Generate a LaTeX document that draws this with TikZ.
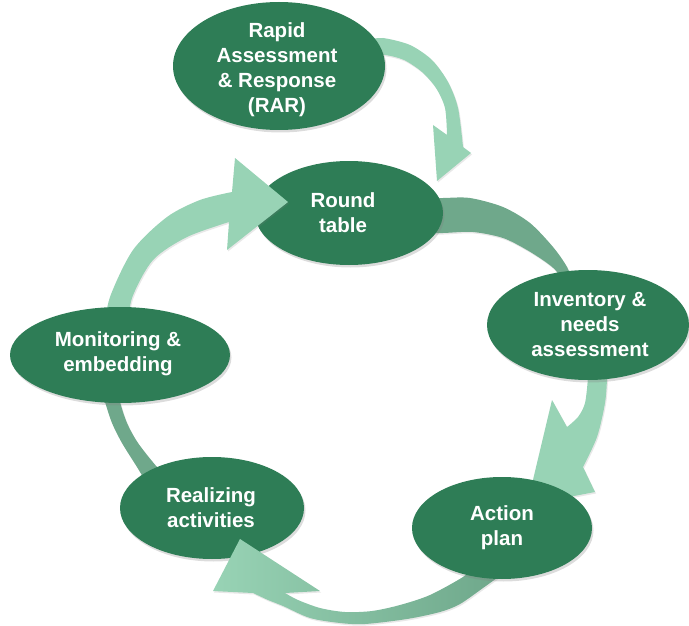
\documentclass[tikz,border=0pt]{standalone}
\usepackage{fontspec}
\setmainfont{Liberation Sans}
\usetikzlibrary{shapes.geometric,shadows}
\definecolor{eg}{RGB}{46,125,86}
\definecolor{lm}{RGB}{152,211,181}
\definecolor{dm}{RGB}{111,168,139}
\tikzset{
  blob/.style={ellipse, fill=eg, draw=none, inner sep=0pt,
    drop shadow={shadow xshift=1.5pt, shadow yshift=-2.5pt, opacity=0.28}},
  txt/.style={text=white, font=\fontsize{20.5}{25}\selectfont\bfseries, align=center, inner sep=0pt},
  mintf/.style={fill=lm, drop shadow={shadow xshift=1pt, shadow yshift=-1.5pt, opacity=0.18}},
  darkf/.style={fill=dm, drop shadow={shadow xshift=1pt, shadow yshift=-1.5pt, opacity=0.18}},
}
\begin{document}
\begin{tikzpicture}[x=1pt,y=-1pt]
\useasboundingbox (0,0) rectangle (689,626);
% Round table -> Inventory (dark back)
\path[darkf] plot[smooth] coordinates {(425,198) (443,198) (470,198) (503,207) (530,223) (553,247) (567,267) (574,285)}
  -- plot[smooth] coordinates {(563,285) (557,272) (547,263) (527,250) (503,238) (473,232) (443,233) (425,233)} -- cycle;
\node[blob, minimum width=188pt, minimum height=104pt] (round) at (349,213) {};
% RAR -> Round table
\path[mintf] plot[smooth] coordinates {(368,40) (383,38) (410,45) (432,60) (448,82) (458,108) (463,147)}
  -- (471,153) -- (437,181) -- (433,125) -- (447,135)
  -- plot[smooth] coordinates {(447,135) (445,108) (436,88) (422,72) (404,60) (385,55) (368,56)} -- cycle;
\node[blob, minimum width=212pt, minimum height=128pt] (rar) at (279,66) {};
% Monitoring -> Round table
\path[mintf] plot[smooth] coordinates {(104,330) (110,297) (133,250) (167,217) (200,200) (232,192)}
  -- (235,158) -- (288,202) -- (227,250) -- (229,222)
  -- plot[smooth] coordinates {(229,222) (187,237) (153,260) (132,298) (128,330)} -- cycle;
% Realizing -> Monitoring (dark back)
\path[darkf] plot[smooth] coordinates {(102,392) (105,402) (112,423) (122,443) (137,467) (146,482)}
  -- plot[smooth] coordinates {(172,482) (157,467) (138,443) (127,423) (120,402) (119,392)} -- cycle;
\node[blob, minimum width=220pt, minimum height=96pt] (mon) at (120,355) {};
\node[blob, minimum width=184pt, minimum height=102pt] (real) at (212,508) {};
% Action -> Realizing
\shade[left color=lm, middle color=lm, right color=dm, drop shadow={shadow xshift=1pt, shadow yshift=-1.5pt, opacity=0.18}]
  plot[smooth] coordinates {(472,568) (463,577) (430,595) (400,605) (372,611) (345,612) (320,608) (298,600) (285,593)}
  -- (320,591) -- (240,539) -- (213,591) -- (253,593)
  -- plot[smooth] coordinates {(253,593) (268,600) (283,606) (310,618) (340,623) (365,624) (407,619) (440,612) (460,604) (483,588) (497,578)} -- cycle;
% Inventory -> Action
\path[mintf] plot[smooth] coordinates {(606,360) (607,377) (605,403) (597,437) (583,467)}
  -- (595,492) -- (527,505) -- (552,400) -- (567,427)
  -- plot[smooth] coordinates {(567,427) (578,417) (585,403) (588,377) (588,360)} -- cycle;
\node[blob, minimum width=180pt, minimum height=102pt] (act) at (502,528) {};
\node[blob, minimum width=202pt, minimum height=110pt] (inv) at (588,325) {};
% texts
\node[txt] (rart) at (277,70) {Rapid\\Assessment\\\& Response\\(RAR)};
\node[txt] (roundt) at (343,213) {Round\\table};
\node[txt] (invt) at (590,325) {Inventory \&\\needs\\assessment};
\node[txt] (actt) at (502,528) {Action\\plan};
\node[txt] (realt) at (211,508) {Realizing\\activities};
\node[txt] (mont) at (118,354) {Monitoring \&\\embedding};
\end{tikzpicture}
\end{document}
